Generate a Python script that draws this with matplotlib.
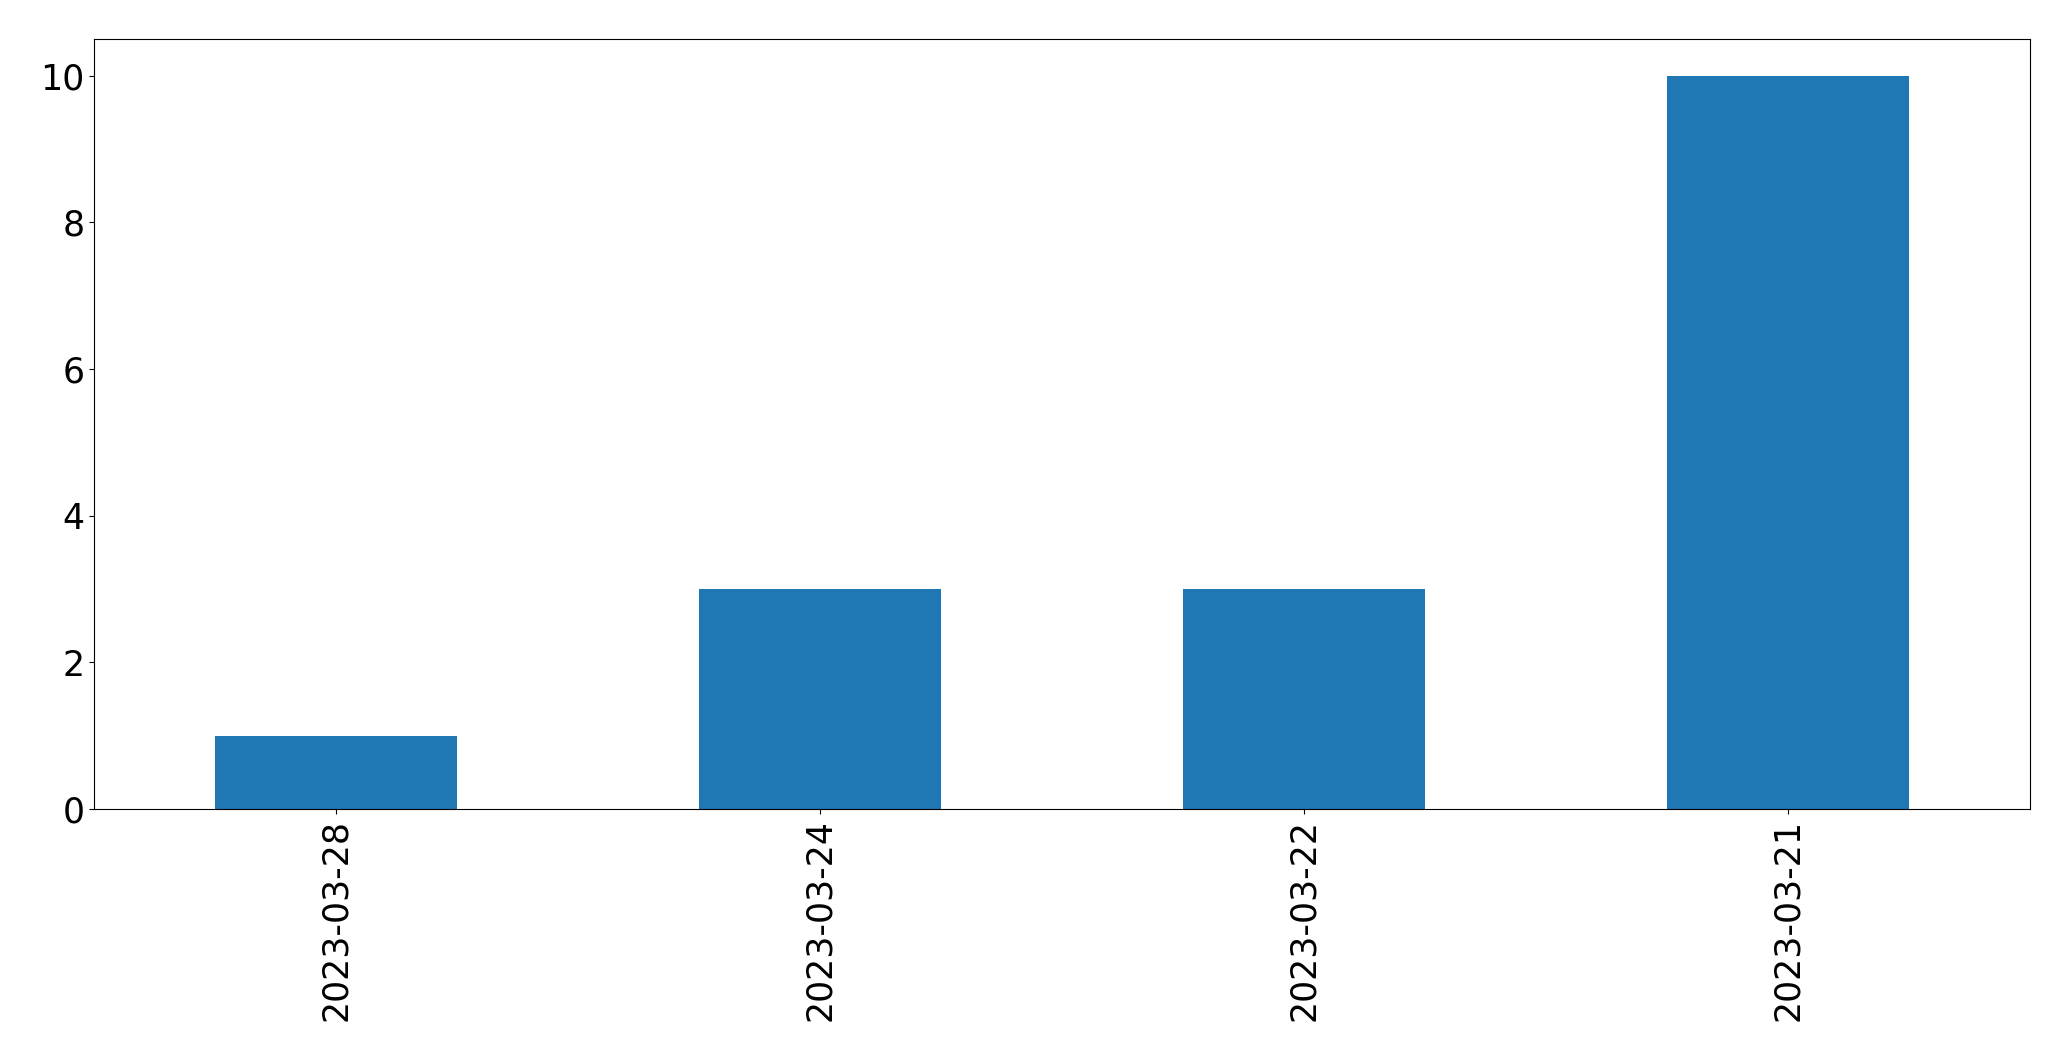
import matplotlib
matplotlib.use("Agg")
import matplotlib.pyplot as plt
import pandas as pd

dates = ["2023-03-28", "2023-03-24", "2023-03-22", "2023-03-21"]
counts = [1, 3, 3, 10]

s = pd.Series(counts, index=dates)

fig, ax = plt.subplots(figsize=(20.71, 10.61), dpi=100)
fig.subplots_adjust(left=94 / 2071, right=2030 / 2071, top=1 - 39 / 1061, bottom=1 - 809 / 1061)
s.plot.bar(ax=ax, color="#1f77b4")
ax.tick_params(axis="both", labelsize=25)

fig.savefig("out.png", dpi=100)
